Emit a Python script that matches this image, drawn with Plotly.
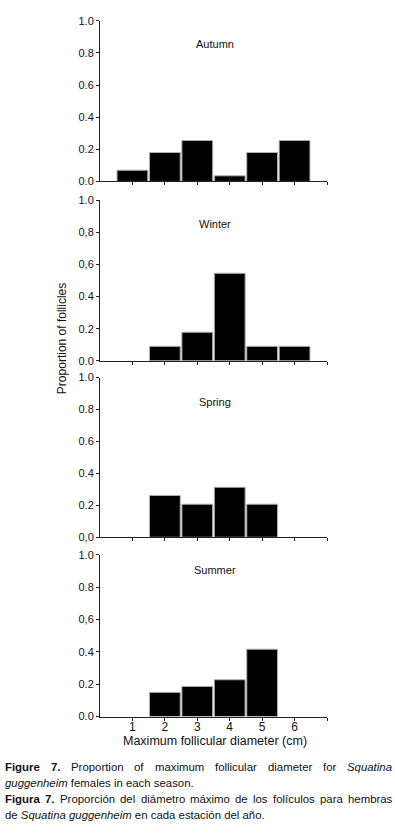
import plotly.graph_objects as go

W, H = 395, 833

diameters = [1, 2, 3, 4, 5, 6]
seasons = ["Autumn", "Winter", "Spring", "Summer"]
autumn = [0.07, 0.18, 0.255, 0.035, 0.18, 0.255]
winter = [0.0, 0.09, 0.178, 0.545, 0.09, 0.09]
spring = [0.0, 0.262, 0.207, 0.313, 0.207, 0.0]
summer = [0.0, 0.150, 0.187, 0.228, 0.417, 0.0]
values = [autumn, winter, spring, summer]

ytick_vals = [0.0, 0.2, 0.4, 0.6, 0.8, 1.0]
ytick_text = [
    ["0.0", "0.2", "0.4", "0.6", "0.8", "1.0"],
    ["0.0", "0.2", "0.4", "0,6", "0,8", "1.0"],
    ["0,0", "0.2", "0.4", "0.6", "0.8", "1.0"],
    ["0.0", "0.2", "0.4", "0,6", "0.8", "1.0"],
]
xtick_vals = [1, 2, 3, 4, 5, 6, 7]
xtick_text = ["1", "2", "3", "4", "5", "6", ""]

y_title = "Proportion of follicles"
x_title = "Maximum follicular diameter (cm)"
caption_line1 = [("Figure", "b"), ("7.", "b"), ("Proportion", ""), ("of", ""), ("maximum", ""),
                 ("follicular", ""), ("diameter", ""), ("for", ""), ("Squatina", "i")]
caption_line2 = "<i>guggenheim</i> females in each season."
caption_line3 = [("Figura", "b"), ("7.", "b"), ("Proporción", ""), ("del", ""), ("diámetro", ""),
                 ("máximo", ""), ("de", ""), ("los", ""), ("folículos", ""), ("para", ""), ("hembras", "")]
caption_line4 = "de <i>Squatina guggenheim</i> en cada estación del año."

FONT = "Liberation Sans, Arial, sans-serif"

# Arial / Liberation Sans advance widths (per 1000 em)
REG = {" ": 278, ".": 278, ",": 278, "7": 556, "a": 556, "b": 556, "c": 500, "d": 556, "e": 556,
       "f": 278, "g": 556, "h": 556, "i": 222, "j": 222, "k": 500, "l": 222, "m": 833, "n": 556,
       "o": 556, "p": 556, "q": 556, "r": 333, "s": 500, "t": 278, "u": 556, "v": 500, "w": 722,
       "x": 500, "y": 500, "z": 500, "F": 611, "P": 667, "S": 667, "á": 556, "í": 222, "ó": 556}
BOLD = dict(REG)
BOLD.update({"i": 278, "g": 611, "u": 611, "r": 389, "a": 556, "e": 556, "7": 556, ".": 278, "F": 611})


def word_width(w, style, fs):
    tbl = BOLD if style == "b" else REG
    return sum(tbl.get(c, 556) for c in w) * fs / 1000.0


def styled(w, style):
    return f"<{style}>{w}</{style}>" if style else w


# panel pixel extents (top, bottom) of y in [0,1]
panels_px = [(15, 178), (197, 360), (377, 539), (557, 721)]
title_y = [0.855, 0.85, 0.85, 0.905]
x0_px, x1_px = 100, 327

fig = go.Figure()
layout = dict(
    width=W, height=H,
    margin=dict(l=0, r=0, t=0, b=0),
    paper_bgcolor="white", plot_bgcolor="white",
    showlegend=False,
    font=dict(family=FONT, size=11, color="#111"),
    annotations=[],
)

for i, (s, vals) in enumerate(zip(seasons, values)):
    n = "" if i == 0 else str(i + 1)
    xa, ya = "x" + n, "y" + n
    fig.add_trace(go.Bar(
        x=diameters, y=[v if v > 0 else None for v in vals], width=0.95,
        marker=dict(color="black", line=dict(color="#b0b0b0", width=1)),
        xaxis=xa, yaxis=ya,
    ))
    top, bot = panels_px[i]
    layout["xaxis" + n] = dict(
        domain=[x0_px / W, x1_px / W], range=[0, 7],
        anchor=ya, showgrid=False, zeroline=False,
        showline=True, linecolor="#222", linewidth=1,
        ticks="outside", ticklen=3, tickcolor="#222",
        tickvals=xtick_vals,
        ticktext=xtick_text if i == 3 else [""] * 7,
        ticklabelstandoff=-4,
        tickfont=dict(size=12, family=FONT), fixedrange=True,
    )
    layout["yaxis" + n] = dict(
        domain=[1 - bot / H, 1 - top / H], range=[0, 1],
        anchor=xa, showgrid=False, zeroline=False,
        showline=True, linecolor="#222", linewidth=1,
        ticks="outside", ticklen=3, tickcolor="#222",
        tickvals=ytick_vals, ticktext=ytick_text[i],
        tickfont=dict(size=11, family=FONT), fixedrange=True,
    )
    layout["annotations"].append(dict(
        x=3.55, y=title_y[i], xref=xa, yref=ya, text=s,
        xanchor="center", yanchor="middle",
        showarrow=False, font=dict(size=11, family=FONT),
    ))

layout["annotations"].append(dict(
    x=62 / W, y=1 - 338 / H, xref="paper", yref="paper", text=y_title,
    xanchor="center", yanchor="middle",
    textangle=-90, showarrow=False, font=dict(size=12, family=FONT),
))
layout["annotations"].append(dict(
    x=215 / W, y=1 - 746 / H, xref="paper", yref="paper", text=x_title,
    xanchor="center", yanchor="middle",
    showarrow=False, font=dict(size=12.5, family=FONT),
))

CAP_FS = 11.4
LEFT, RIGHT = 4, 391


def justified(words, ypx):
    widths = [word_width(w, s, CAP_FS) for w, s in words]
    gap = (RIGHT - LEFT - sum(widths)) / (len(words) - 1)
    x = LEFT
    for (w, s), wd in zip(words, widths):
        layout["annotations"].append(dict(
            x=x / W, y=1 - ypx / H, xref="paper", yref="paper", text=styled(w, s),
            xanchor="left", yanchor="middle", showarrow=False, borderpad=0,
            font=dict(size=CAP_FS, family=FONT),
        ))
        x += wd + gap


def plain(text, ypx):
    layout["annotations"].append(dict(
        x=LEFT / W, y=1 - ypx / H, xref="paper", yref="paper", text=text,
        xanchor="left", yanchor="middle", showarrow=False, borderpad=0,
        font=dict(size=CAP_FS, family=FONT),
    ))


justified(caption_line1, 772)
plain(caption_line2, 788)
justified(caption_line3, 805)
plain(caption_line4, 821)

fig.update_layout(**layout)
fig.write_html("out.html", config={"displayModeBar": False},
               post_script="document.body.style.margin='0';")
